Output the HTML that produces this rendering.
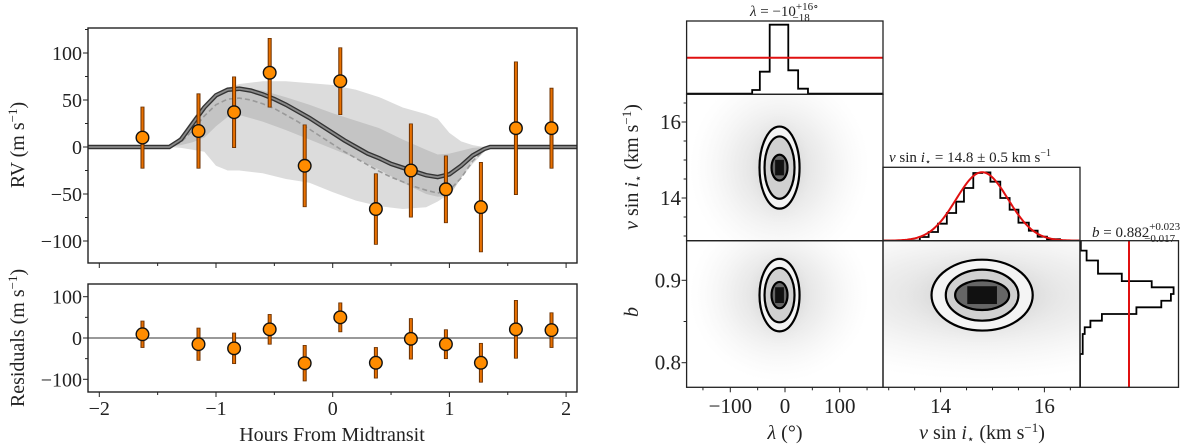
<!DOCTYPE html>
<html><head><meta charset="utf-8">
<style>
html,body{margin:0;padding:0;background:#fff;}
svg{display:block;font-family:"Liberation Serif","DejaVu Serif",serif;}
</style></head>
<body>
<svg id="chart" width="1200" height="446" viewBox="0 0 1200 446" xmlns="http://www.w3.org/2000/svg">
<defs>
  <radialGradient id="cloud" cx="50%" cy="50%" r="50%">
    <stop offset="0%" stop-color="#aaa" stop-opacity="0.5"/>
    <stop offset="50%" stop-color="#c8c8c8" stop-opacity="0.3"/>
    <stop offset="100%" stop-color="#e6e6e6" stop-opacity="0"/>
  </radialGradient>
</defs>
<g id="left"></g>
<g id="corner"></g>
</svg>
<script>
// ---------- RV data ----------
const obsHours = [-1.63,-1.15,-0.845,-0.54,-0.24,0.065,0.37,0.67,0.97,1.27,1.57,1.875];
const obsRV = [10,17,37,79,-20,70,-66,-25,-45,-64,20,20];
const obsErr = [33,40,38,37,44,36,38,50,36,48,71,43];
const obsResid = [9,-15,-25,21,-61,50,-60,-2,-15,-60,21,19];
const modelHours = [-2.1,-1.4,-1.3,-1.2,-1.1,-1.0,-0.9,-0.8,-0.7,-0.6,-0.5,-0.4,-0.3,-0.2,-0.1,0,0.1,0.2,0.3,0.4,0.5,0.6,0.7,0.8,0.9,1.0,1.1,1.2,1.3,1.35,2.1];
const modelRV = [0,0,8,25,42,55,61,62,60,56,51,45,38,31,23,15,7,0,-7,-12,-18,-22,-26,-30,-32,-29,-20,-9,-2,0,0];
const medianRV = [0,0,5,18,33,45,51,52,50,46,41,34,27,19,11,3,-5,-12,-19,-26,-32,-37,-42,-46,-49,-46,-33,-15,-3,0,0];
const bandHours = [-1.4,-1.3,-1.2,-1.1,-1.0,-0.9,-0.8,-0.6,-0.4,-0.2,0,0.2,0.4,0.6,0.8,0.9,1.0,1.1,1.2,1.3,1.35];
const outerUp = [0,12,30,45,55,63,67,70,70,68,66,61,53,42,35,30,15,6,2,0,0];
const outerLo = [0,-1,-3,-5,-20,-25,-25,-28,-34,-38,-48,-57,-63,-66,-64,-58,-50,-33,-18,-5,0];
const innerUp = [0,10,28,45,57,63,64,60,53,45,36,28,20,8,-3,-8,-7,-4,-1,0,0];
const innerLo = [0,2,5,10,22,32,34,27,18,8,-2,-12,-24,-38,-50,-53,-52,-33,-13,-2,0];
const xTicks = [-2,-1,0,1,2];
const rvTicks = [-100,-50,0,50,100];
const resTicks = [-100,0,100];

// ---------- corner data ----------
const lamEdges = [-180,-60,-46,-28,-10,6,24,42,180];
const lamCounts = [0.6,4.3,22.6,69.6,69.6,24,5.6,0.6];
const lamRef = [36.6];
const vEdges = [13.6,13.77,13.95,14.12,14.3,14.45,14.63,14.8,14.96,15.15,15.33,15.5,15.7,15.87,16.05,16.3];
const vCounts = [3.7,8.7,17,27.7,39,52.7,67.7,68.3,59,42.7,31,18,10,4,1.5];
const vFit = [14.8,0.5,68.5]; // mean, sigma, peak
const bEdges = [0.948,0.936,0.924,0.908,0.899,0.8915,0.8834,0.8752,0.8672,0.8591,0.851,0.843,0.8348,0.8106,0.77];
const bCounts = [0.8,6.6,18,41.8,71.7,93.6,90.9,81.3,56.4,21.9,10.4,4.7,2.7,0];
const bRef = [49];
const centers = [-10,14.8,0.882];
const lamHalf = [36.6,27.4,14.6];
const vHalfL = [1.08,0.82,0.34];
const bHalfL = [0.044,0.033,0.016];
const vHalfB = [0.975,0.70,0.52];
const bHalfV = [0.043,0.031,0.018];
const lamTicks = [-100,0,100];
const vTicks = [14,16];
const bTicks = [0.8,0.9];

const NS="http://www.w3.org/2000/svg";
function el(tag, attrs, parent){const e=document.createElementNS(NS,tag);for(const k in attrs)e.setAttribute(k,attrs[k]);parent.appendChild(e);return e;}
const L=document.getElementById('left'), C=document.getElementById('corner');

const X = h => 332.7 + 116.7*h;
const Y = v => 147 - 0.94*v;
const Yr = v => 338 - 0.413*v;
const T1={x0:88,x1:577,y0:28,y1:263}, T2={x0:88,x1:577,y0:284,y1:392};

function poly(xs, ys){return xs.map((h,i)=>X(h).toFixed(1)+','+ys[i].toFixed(1)).join(' ');}
let clipT=el('clipPath',{id:'clipT'},L); el('rect',{x:T1.x0,y:T1.y0,width:T1.x1-T1.x0,height:T1.y1-T1.y0},clipT);
let gT=el('g',{'clip-path':'url(#clipT)'},L);


let ob=el('polygon',{points:poly(bandHours,outerUp.map(Y))+' '+poly(bandHours.slice().reverse(),outerLo.slice().reverse().map(Y)),fill:'#dcdcdc'},gT);


let ib=el('polygon',{points:poly(bandHours,innerUp.map(Y))+' '+poly(bandHours.slice().reverse(),innerLo.slice().reverse().map(Y)),fill:'#c4c4c4'},gT);


let md=el('polyline',{points:poly(modelHours,medianRV.map(Y)),fill:'none',stroke:'#999','stroke-width':1.6,'stroke-dasharray':'5,3'},gT);


el('polyline',{points:poly(modelHours,modelRV.map(Y)),fill:'none',stroke:'#333','stroke-width':4.5},gT);
let ml=el('polyline',{points:poly(modelHours,modelRV.map(Y)),fill:'none',stroke:'#8a8a8a','stroke-width':1.8},gT);



let zl=el('line',{x1:T2.x0,x2:T2.x1,y1:Yr(0),y2:Yr(0),stroke:'#999','stroke-width':2},L);



function points(vals, yf, g, name){
  obsHours.forEach((h,i)=>{
    const x=X(h), yt=yf(vals[i]+obsErr[i]), yb=yf(vals[i]-obsErr[i]);
    el('line',{x1:x,x2:x,y1:yt,y2:yb,stroke:'#6b3000','stroke-width':4},g);
    el('line',{x1:x,x2:x,y1:yt+0.8,y2:yb-0.8,stroke:'#e87000','stroke-width':2},g);
    const c=el('circle',{cx:x,cy:yf(vals[i]),r:6.3,fill:'#ff8c00',stroke:'#111','stroke-width':1.4},g);
    
    
  });
}
points(obsRV,Y,gT,'rv-point');
points(obsResid,Yr,L,'residual-point');

[T1,T2].forEach((t,k)=>{
  const fr=el('rect',{x:t.x0,y:t.y0,width:t.x1-t.x0,height:t.y1-t.y0,fill:'none',stroke:'#222','stroke-width':1.4},L);
  
  
  for(let h=-2;h<=2.001;h+=0.5){
    const maj=Math.abs(h-Math.round(h))<1e-6;
    el('line',{x1:X(h),x2:X(h),y1:t.y1,y2:t.y1+(maj?5:3),stroke:'#222','stroke-width':1},L);
  }
});
for(let v=-100;v<=125;v+=25){el('line',{x1:T1.x0,x2:T1.x0-(v%50===0?5:3),y1:Y(v),y2:Y(v),stroke:'#222','stroke-width':1},L);}
for(let v=-100;v<=100;v+=50){el('line',{x1:T2.x0,x2:T2.x0-(v%100===0?5:3),y1:Yr(v),y2:Yr(v),stroke:'#222','stroke-width':1},L);}
function txt(parent,x,y,s,attrs,name){const t=el('text',Object.assign({x:x,y:y,'font-size':20,fill:'#222'},attrs||{}),parent);t.textContent=s;return t;}
rvTicks.forEach(v=>txt(L,82,Y(v)+7,String(v).replace('-','−'),{'text-anchor':'end'},'rv-tick-label'));
resTicks.forEach(v=>txt(L,82,Yr(v)+7,String(v).replace('-','−'),{'text-anchor':'end'},'residual-tick-label'));
xTicks.forEach(h=>txt(L,X(h),415,String(h).replace('-','−'),{'text-anchor':'middle'},'x-tick-label'));
txt(L,332,441,'Hours From Midtransit',{'text-anchor':'middle'},'x-axis-title');
let ry=txt(L,0,0,'',{'text-anchor':'middle',transform:'translate(24,145) rotate(-90)'},'rv-axis-title');
ry.innerHTML='RV (m s<tspan dy="-7" font-size="13">−1</tspan><tspan dy="7">)</tspan>';
let rr=txt(L,0,0,'',{'text-anchor':'middle',transform:'translate(24,338) rotate(-90)'},'residual-axis-title');
rr.innerHTML='Residuals (m s<tspan dy="-7" font-size="13">−1</tspan><tspan dy="7">)</tspan>';

// ---------- corner ----------
const LX = v => 785 + 0.547*v;
const VX = v => 940.6 + 51.9*(v-14);
const VY = v => 122 + 38*(16-v);
const BY = v => 280.3 + 824*(0.9-v);
const cells=[
 {x0:686.6,x1:883,y0:21,y1:94.3,n:'lambda-histogram'},
 {x0:686.6,x1:883,y0:94.3,y1:240.7,n:'lambda-vsini-panel'},
 {x0:686.6,x1:883,y0:240.7,y1:387.3,n:'lambda-b-panel'},
 {x0:883,x1:1080,y0:167.3,y1:240.7,n:'vsini-histogram'},
 {x0:883,x1:1080,y0:240.7,y1:387.3,n:'vsini-b-panel'},
 {x0:1080,x1:1178.5,y0:240.7,y1:387.3,n:'b-histogram'}];
cells.forEach((c,i)=>{const cp=el('clipPath',{id:'cc'+i},C);el('rect',{x:c.x0,y:c.y0,width:c.x1-c.x0,height:c.y1-c.y0},cp);});

function panel2d(ci,cx,cy,hx,hy){
  const g=el('g',{'clip-path':'url(#cc'+ci+')'},C);
  
  
  const rx=hx[0], ryy=hy[0];
  el('ellipse',{cx:cx,cy:cy,rx:rx*4.5,ry:ryy*2.4,fill:'url(#cloud)'},g);
  el('ellipse',{cx:cx,cy:cy,rx:rx*1.6,ry:ryy*1.35,fill:'url(#cloud)'},g);
  el('ellipse',{cx:cx,cy:cy,rx:hx[0],ry:hy[0],fill:'#f4f4f4'},g);
  el('ellipse',{cx:cx,cy:cy,rx:hx[1],ry:hy[1],fill:'#d0d0d0'},g);
  el('ellipse',{cx:cx,cy:cy,rx:hx[2],ry:hy[2],fill:'#666'},g);
  el('rect',{x:cx-hx[2]*0.55,y:cy-hy[2]*0.6,width:hx[2]*1.1,height:hy[2]*1.2,fill:'#111'},g);
  hx.forEach((h,k)=>{const e=el('ellipse',{cx:cx,cy:cy,rx:h,ry:hy[k],fill:'none',stroke:'#000','stroke-width':2.2},g);
    
    });
}
panel2d(1,LX(centers[0]),VY(centers[1]),lamHalf.map(v=>v*0.547),vHalfL.map(v=>v*38));
panel2d(2,LX(centers[0]),BY(centers[2]),lamHalf.map(v=>v*0.547),bHalfL.map(v=>v*824));
panel2d(4,VX(centers[1]),BY(centers[2]),vHalfB.map(v=>v*51.9),bHalfV.map(v=>v*824));

(function(){
  const g=el('g',{'clip-path':'url(#cc0)'},C);
  let d='M'+LX(lamEdges[0])+','+94.3;
  lamCounts.forEach((c,i)=>{d+=' L'+LX(lamEdges[i])+','+(94.3-c)+' L'+LX(lamEdges[i+1])+','+(94.3-c);});
  d+=' L'+LX(lamEdges[lamEdges.length-1])+',94.3';
  const p=el('path',{d:d,fill:'none',stroke:'#000','stroke-width':1.8},g);
  
  
  const r=el('line',{x1:686.6,x2:883,y1:94.3-lamRef[0],y2:94.3-lamRef[0],stroke:'#e01010','stroke-width':2},g);
  
  
})();
(function(){
  const g=el('g',{'clip-path':'url(#cc3)'},C);
  let d='M883,240.7 L'+VX(vEdges[0])+',240.7';
  vCounts.forEach((c,i)=>{d+=' L'+VX(vEdges[i])+','+(240.7-c)+' L'+VX(vEdges[i+1])+','+(240.7-c);});
  d+=' L'+VX(vEdges[vEdges.length-1])+',240.7 L1080,240.7';
  const p=el('path',{d:d,fill:'none',stroke:'#000','stroke-width':1.8},g);
  
  
  let pts=[];
  for(let x=883;x<=1080;x+=2){const v=14+(x-940.6)/51.9;const h=vFit[2]*Math.exp(-0.5*Math.pow((v-vFit[0])/vFit[1],2));pts.push(x+','+(240.7-h).toFixed(1));}
  const f=el('polyline',{points:pts.join(' '),fill:'none',stroke:'#e01010','stroke-width':2},g);
  
  
})();
(function(){
  const g=el('g',{'clip-path':'url(#cc5)'},C);
  let d='M1080,'+BY(bEdges[0]);
  bCounts.forEach((c,i)=>{d+=' L'+(1080+c)+','+BY(bEdges[i])+' L'+(1080+c)+','+BY(bEdges[i+1]);});
  const p=el('path',{d:d,fill:'none',stroke:'#000','stroke-width':1.8},g);
  
  
  const r=el('line',{x1:1080+bRef[0],x2:1080+bRef[0],y1:240.7,y2:387.3,stroke:'#e01010','stroke-width':2},g);
  
  
})();
cells.forEach(c=>{const r=el('rect',{x:c.x0,y:c.y0,width:c.x1-c.x0,height:c.y1-c.y0,fill:'none',stroke:'#222','stroke-width':1.3},C);
  
  });
for(let v=-150;v<=150;v+=50){el('line',{x1:LX(v),x2:LX(v),y1:387.3,y2:387.3+(v%100===0?5:3),stroke:'#222','stroke-width':1},C);}
for(let v=13;v<=16.5;v+=0.5){el('line',{x1:VX(v),x2:VX(v),y1:387.3,y2:387.3+(v%2===0?5:3),stroke:'#222','stroke-width':1},C);}
for(let v=13;v<=16.5;v+=0.5){el('line',{x1:686.6,x2:686.6-(v%2===0?5:3),y1:VY(v),y2:VY(v),stroke:'#222','stroke-width':1},C);}
for(let v=0.8;v<=0.95;v+=0.05){el('line',{x1:686.6,x2:686.6-(Math.abs(v*10-Math.round(v*10))<1e-6?5:3),y1:BY(v),y2:BY(v),stroke:'#222','stroke-width':1},C);}
lamTicks.forEach(v=>txt(C,LX(v),413,String(v).replace('-','−'),{'text-anchor':'middle','font-size':21},'lambda-tick-label'));
vTicks.forEach(v=>txt(C,VX(v),413,String(v),{'text-anchor':'middle','font-size':21},'vsini-x-tick-label'));
vTicks.forEach(v=>txt(C,681,VY(v)+7,String(v),{'text-anchor':'end','font-size':21},'vsini-y-tick-label'));
bTicks.forEach(v=>txt(C,681,BY(v)+7,v.toFixed(1),{'text-anchor':'end','font-size':21},'b-tick-label'));
let t1=txt(C,785,439,'',{'text-anchor':'middle'},'lambda-axis-title'); t1.innerHTML='<tspan font-style="italic">λ</tspan> (°)';
let t2=txt(C,982,439,'',{'text-anchor':'middle'},'vsini-x-axis-title'); t2.innerHTML='<tspan font-style="italic">v</tspan> sin <tspan font-style="italic">i</tspan><tspan font-size="12" dy="4">⋆</tspan><tspan dy="-4"> (km s</tspan><tspan dy="-7" font-size="13">−1</tspan><tspan dy="7">)</tspan>';
let t3=txt(C,0,0,'',{'text-anchor':'middle',transform:'translate(638,167) rotate(-90)'},'vsini-y-axis-title'); t3.innerHTML='<tspan font-style="italic">v</tspan> sin <tspan font-style="italic">i</tspan><tspan font-size="12" dy="4">⋆</tspan><tspan dy="-4"> (km s</tspan><tspan dy="-7" font-size="13">−1</tspan><tspan dy="7">)</tspan>';
txt(C,0,0,'b',{'text-anchor':'middle','font-style':'italic',transform:'translate(638,312) rotate(-90)'},'b-axis-title');
let h1=txt(C,750,16,'',{'font-size':15},'lambda-title'); h1.innerHTML='<tspan font-style="italic">λ</tspan> = −10<tspan font-size="11" dy="-6">+16∘</tspan><tspan font-size="11" dx="-26" dy="11">−18</tspan>';
let h2=txt(C,889,162,'',{'font-size':15},'vsini-title'); h2.innerHTML='<tspan font-style="italic">v</tspan> sin <tspan font-style="italic">i</tspan><tspan font-size="10" dy="3">⋆</tspan><tspan dy="-3"> = 14.8 ± 0.5 km s</tspan><tspan font-size="10" dy="-6">−1</tspan>';
let h3=txt(C,1092,237,'',{'font-size':15},'b-title'); h3.innerHTML='<tspan font-style="italic">b</tspan> = 0.882<tspan font-size="11" dy="-7">+0.023</tspan><tspan font-size="11" dx="-36" dy="12">−0.017</tspan>';
</script>
</body></html>
